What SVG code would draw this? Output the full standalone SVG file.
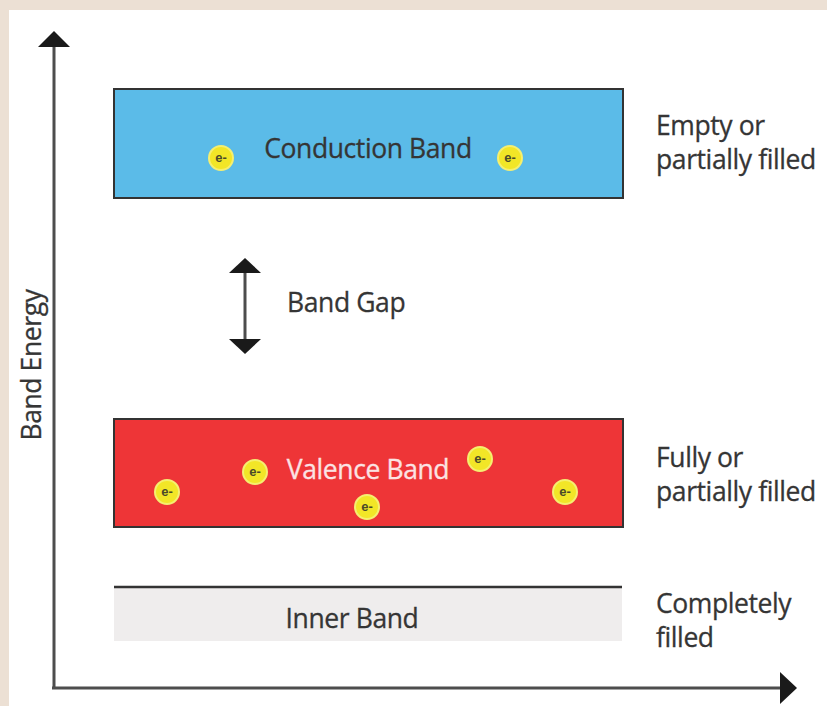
<svg xmlns="http://www.w3.org/2000/svg" width="827" height="706" viewBox="0 0 827 706">
<style>
.t{font-family:"Open Sans","Liberation Sans",sans-serif;font-size:26.5px;font-weight:500;fill:#353535;letter-spacing:-0.4px;stroke:#353535;stroke-width:0.3px}
.e circle{fill:#f2e627;stroke:#f5ef70;stroke-width:2}
.e text{font-family:"Liberation Sans",sans-serif;font-size:13px;font-weight:bold;fill:#4a4a2a;text-anchor:middle}
.ax{stroke:#4d4d4d;stroke-width:3;fill:none}
</style>
<rect x="0" y="0" width="827" height="706" fill="#ece0d4"/>
<rect x="9" y="10" width="818" height="696" fill="#ffffff"/>
<g id="connectors">
<line class="ax" x1="54" y1="688" x2="54" y2="46"/>
<path d="M54,31 L70,47 L38,47 Z" fill="#1a1a1a"/>
<line class="ax" x1="52" y1="688" x2="782" y2="688"/>
<path d="M797,688 L780,672 L780,704 Z" fill="#1a1a1a"/>
<line class="ax" x1="245" y1="272" x2="245" y2="340"/>
<path d="M245,258 L261,273 L229,273 Z" fill="#1a1a1a"/>
<path d="M245,354 L261,339 L229,339 Z" fill="#1a1a1a"/>
</g>
<text class="t" transform="translate(41,365) rotate(-90)" text-anchor="middle">Band  Energy</text>
<g id="conduction">
<rect x="114" y="89" width="509" height="109" fill="#5bbbe8" stroke="#333" stroke-width="2"/>
<text class="t" x="368" y="158" text-anchor="middle">Conduction Band</text>
<g class="e"><circle cx="221" cy="158" r="12"/><text x="221" y="162">e-</text></g>
<g class="e"><circle cx="510" cy="158" r="12"/><text x="510" y="162">e-</text></g>
</g>
<g id="bandgap">
<text class="t" x="287" y="312">Band Gap</text>
</g>
<g id="valence">
<rect x="114" y="419" width="509" height="108" fill="#ee3537" stroke="#333" stroke-width="2"/>
<text class="t" x="368" y="479" text-anchor="middle" style="fill:#fbe3e3;stroke:#fbe3e3">Valence Band</text>
<g class="e"><circle cx="167" cy="492" r="12"/><text x="167" y="496">e-</text></g>
<g class="e"><circle cx="255" cy="472" r="12"/><text x="255" y="476">e-</text></g>
<g class="e"><circle cx="480" cy="459" r="12"/><text x="480" y="463">e-</text></g>
<g class="e"><circle cx="367" cy="507" r="12"/><text x="367" y="511">e-</text></g>
<g class="e"><circle cx="565" cy="492" r="12"/><text x="565" y="496">e-</text></g>
</g>
<g id="inner">
<rect x="114" y="588" width="508" height="53" fill="#efeded"/>
<line x1="114" y1="587" x2="622" y2="587" stroke="#333" stroke-width="2.5"/>
<text class="t" x="352" y="628" text-anchor="middle">Inner Band</text>
</g>
<g id="labels">
<text class="t" x="656" y="135">Empty or</text>
<text class="t" x="656" y="169">partially filled</text>
<text class="t" x="656" y="467">Fully or</text>
<text class="t" x="656" y="501">partially filled</text>
<text class="t" x="656" y="613">Completely</text>
<text class="t" x="656" y="647">filled</text>
</g>
</svg>
